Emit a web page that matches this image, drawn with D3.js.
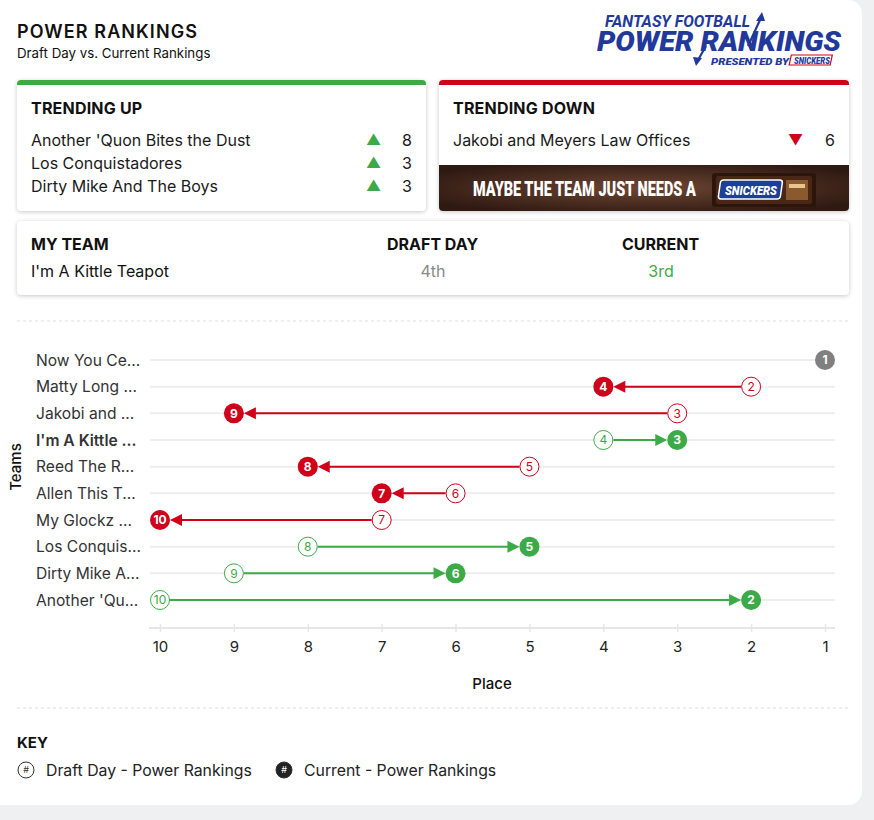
<html>
<head>
<script src="https://d3js.org/d3.v7.min.js"></script>
<style>
  * { margin: 0; padding: 0; box-sizing: border-box; }
  body { background: #eef0f2; width: 874px; height: 820px; overflow: hidden; font-family: 'Inter', sans-serif; color: #111; }
  .page { position: absolute; left: 0; top: 0; width: 862px; height: 805px; background: #fff; border-radius: 0 14px 14px 0; }
  .t { position: absolute; white-space: nowrap; line-height: 20px; }
  .card { position: absolute; background: #fff; border-radius: 4px; box-shadow: 0 1px 4px rgba(0,0,0,0.22); overflow: hidden; }
  #up { left: 17px; top: 80px; width: 409px; height: 131px; border-top: 5px solid #3daa48; }
  #down { left: 439px; top: 80px; width: 410px; height: 131px; border-top: 5px solid #d0021b; }
  #mine { left: 17px; top: 221px; width: 832px; height: 74px; }
  .head { font-weight: 700; font-size: 16px; letter-spacing: 0.2px; }
  .row { font-size: 16px; color: #1a1a1a; }
  #chart { position: absolute; left: 0; top: 0; }
</style>
</head>
<body>
<div class="page">
  <div class="t" style="left:17px; top:22px; font-size:18px; font-weight:600; letter-spacing:1.1px;">POWER RANKINGS</div>
  <div class="t" style="left:17px; top:43px; font-size:13.3px;">Draft Day vs. Current Rankings</div>

  <div class="card" id="up">
    <div class="t head" style="left:14px; top:13px;">TRENDING UP</div>
    <div id="upRows"></div>
  </div>
  <div class="card" id="down">
    <div class="t head" style="left:14px; top:13px;">TRENDING DOWN</div>
    <div id="downRows"></div>
  </div>
  <div class="card" id="mine">
    <div class="t" style="left:14px; top:13px; font-size:16px; font-weight:700;">MY TEAM</div>
    <div class="t" style="left:370px; top:13px; font-size:16px; font-weight:700;">DRAFT DAY</div>
    <div class="t" style="left:605px; top:13px; font-size:16px; font-weight:700;">CURRENT</div>
    <div class="t" id="myName" style="left:14px; top:40px; font-size:16px;"></div>
    <div class="t" id="myDraft" style="left:370px; width:92px; text-align:center; top:40px; font-size:16px; color:#888;"></div>
    <div class="t" id="myCurrent" style="left:605px; width:78px; text-align:center; top:40px; font-size:16px; color:#3daa48;"></div>
  </div>
</div>
<svg id="chart" width="874" height="820"></svg>

<script>
// ---- data ----
var teams = ["Now You CeeDee Me", "Matty Long Legs", "Jakobi and Meyers Law Offices", "I'm A Kittle Teapot",
             "Reed The Room", "Allen This Together", "My Glockz Bigger", "Los Conquistadores",
             "Dirty Mike And The Boys", "Another 'Quon Bites the Dust"];
var draftRank   = [1, 2, 3, 4, 5, 6, 7, 8, 9, 10];
var currentRank = [1, 4, 9, 3, 8, 7, 10, 5, 6, 2];
var placeTicks  = [10, 9, 8, 7, 6, 5, 4, 3, 2, 1];
var myTeam = "I'm A Kittle Teapot";
var myDraftLabel = "4th", myCurrentLabel = "3rd";

var upTeams  = ["Another 'Quon Bites the Dust", "Los Conquistadores", "Dirty Mike And The Boys"];
var upMoves  = [8, 3, 3];
var downTeams = ["Jakobi and Meyers Law Offices"];
var downMoves = [6];

var green = '#3daa48', red = '#d0021b', grey = '#808080';

// ---- trending cards ----
d3.select('#upRows').selectAll('div').data(upTeams).enter().append('div')
  .each(function (d, i) {
    var top = 45 + i * 23;
    var s = d3.select(this);
    s.append('div').attr('class', 't row').style('left', '14px').style('top', top + 'px').text(d);
    s.append('div').attr('class', 't row').style('left', '349px').style('top', top + 'px')
      .style('color', green).style('font-size', '15px').text('\u25B2');
    s.append('div').attr('class', 't row').style('left', '375px').style('width', '20px')
      .style('text-align', 'right').style('top', top + 'px').text(upMoves[i]);
  });

d3.select('#downRows').selectAll('div').data(downTeams).enter().append('div')
  .each(function (d, i) {
    var top = 45 + i * 23;
    var s = d3.select(this);
    s.append('div').attr('class', 't row').style('left', '14px').style('top', top + 'px').text(d);
    s.append('div').attr('class', 't row').style('left', '349px').style('top', top + 'px')
      .style('color', red).style('font-size', '15px').text('\u25BC');
    s.append('div').attr('class', 't row').style('left', '374px').style('width', '22px')
      .style('text-align', 'right').style('top', top + 'px').text(downMoves[i]);
  });

d3.select('#myName').text(myTeam);
d3.select('#myDraft').text(myDraftLabel);
d3.select('#myCurrent').text(myCurrentLabel);

var svg = d3.select('#chart');

// squeeze a text horizontally so it spans w pixels from (x, y)
function fitText(sel, x, y, w) {
  var len = sel.node().getComputedTextLength();
  sel.attr('x', 0).attr('y', 0).attr('transform', 'translate(' + x + ',' + y + ') scale(' + (w / len) + ',1)');
  return sel;
}

// ---- logo ----
var blue = '#22399b';
svg.append('rect').attr('x', 791).attr('y', 55).attr('width', 41).attr('height', 10)
  .attr('fill', '#fff').attr('stroke', red).attr('stroke-width', 1.2).attr('transform', 'skewX(-12) translate(12,0)');
var logo = svg.append('text').attr('font-family', 'Roboto').attr('font-style', 'italic').attr('font-weight', 900).attr('fill', blue);
logo.append('tspan').attr('x', 605).attr('y', 27).attr('font-size', 16).attr('font-weight', 700).attr('textLength', 145)
  .attr('lengthAdjust', 'spacingAndGlyphs').text('FANTASY FOOTBALL');
logo.append('tspan').attr('x', 597).attr('y', 51).attr('font-size', 28).attr('textLength', 244)
  .attr('lengthAdjust', 'spacingAndGlyphs').text('POWER RANKINGS');
logo.append('tspan').attr('x', 711).attr('y', 64.5).attr('font-size', 9.5).attr('textLength', 78)
  .attr('lengthAdjust', 'spacingAndGlyphs').text('PRESENTED BY');
logo.append('tspan').attr('x', 794).attr('y', 64).attr('font-size', 9).attr('textLength', 36)
  .attr('lengthAdjust', 'spacingAndGlyphs').text('SNICKERS');
// arrow through the R
svg.append('path').attr('d', 'M760,20 L748,46 M706,46 L698,60').attr('stroke', blue).attr('stroke-width', 2.2).attr('fill', 'none');
svg.append('path').attr('d', 'M762,12 L756,21 L765,21 Z').attr('fill', blue);
svg.append('path').attr('d', 'M696,66 L693,57 L702,58 Z').attr('fill', blue);

// ---- snickers banner ----
var defs = svg.append('defs');
var rg = defs.append('radialGradient').attr('id', 'brown').attr('cx', '50%').attr('cy', '50%').attr('r', '60%');
rg.append('stop').attr('offset', '0%').attr('stop-color', '#6e4634');
rg.append('stop').attr('offset', '100%').attr('stop-color', '#2f1a12');
defs.append('clipPath').attr('id', 'bannerClip').append('path')
  .attr('d', 'M439,165 H849 V207 Q849,211 845,211 H443 Q439,211 439,207 Z');
var banner = svg.append('g').attr('clip-path', 'url(#bannerClip)');
banner.append('rect').attr('x', 439).attr('y', 165).attr('width', 410).attr('height', 46).attr('fill', 'url(#brown)');
fitText(banner.append('text').attr('fill', '#fff').attr('font-family', 'Roboto')
  .attr('font-weight', 900).attr('font-size', 21).text('MAYBE THE TEAM JUST NEEDS A'), 473, 196, 223);
banner.append('rect').attr('x', 712).attr('y', 173).attr('width', 104).attr('height', 34).attr('rx', 3).attr('fill', '#2b150c');
banner.append('rect').attr('x', 716).attr('y', 176).attr('width', 96).attr('height', 28).attr('rx', 2).attr('fill', '#4a2616');
banner.append('rect').attr('x', 720).attr('y', 180).attr('width', 62).attr('height', 19).attr('rx', 3)
  .attr('fill', '#1d3f96').attr('stroke', '#fff').attr('stroke-width', 1.5).attr('transform', 'skewX(-8) translate(26,0)');
fitText(banner.append('text').attr('fill', '#fff').attr('font-family', 'Roboto').attr('font-style', 'italic')
  .attr('font-weight', 900).attr('font-size', 13).text('SNICKERS'), 725, 195, 52);
banner.append('rect').attr('x', 786).attr('y', 180).attr('width', 22).attr('height', 20).attr('fill', '#8a5a2e');
banner.append('rect').attr('x', 789).attr('y', 184).attr('width', 16).attr('height', 4).attr('fill', '#e8c68e');

// ---- dividers ----
[321, 708].forEach(function (y) {
  svg.append('line').attr('x1', 17).attr('x2', 849).attr('y1', y).attr('y2', y)
    .attr('stroke', '#ddd').attr('stroke-dasharray', '3,3');
});

// ---- chart ----
var x = d3.scaleLinear().domain([10, 1]).range([160, 825]);
var y = d3.scalePoint().domain(teams).range([360, 600]);
var r = 10;

var grid = svg.append('g');
grid.selectAll('line').data(teams).enter().append('line')
  .attr('x1', 150).attr('x2', 835)
  .attr('y1', function (d) { return y(d); }).attr('y2', function (d) { return y(d); })
  .attr('stroke', '#eeeeee').attr('stroke-width', 2);

var xAxis = svg.append('g').attr('transform', 'translate(0,628)')
  .call(d3.axisBottom(x).tickValues(placeTicks).tickFormat(d3.format('d')).tickSize(0).tickPadding(13));
xAxis.select('.domain').attr('d', 'M149,0H835').attr('stroke', '#e6e6e6').attr('stroke-width', 2);
xAxis.selectAll('.tick').append('line').attr('y1', -4).attr('y2', 4).attr('stroke', '#e6e6e6').attr('stroke-width', 1.5);
xAxis.selectAll('.tick text').attr('font-family', 'Inter').attr('font-size', 15).attr('fill', '#222');

svg.append('text').attr('x', 492).attr('y', 689).attr('text-anchor', 'middle')
  .attr('font-family', 'Inter').attr('font-size', 15).attr('font-weight', 500).attr('fill', '#111').text('Place');
svg.append('text').attr('transform', 'translate(21,467) rotate(-90)').attr('text-anchor', 'middle')
  .attr('font-family', 'Inter').attr('font-size', 15).attr('font-weight', 500).attr('fill', '#111').text('Teams');

// team labels, cut with an ellipsis when too wide
var labelMax = 106;
svg.append('g').selectAll('text').data(teams).enter().append('text')
  .attr('x', 36).attr('y', function (d) { return y(d); }).attr('dy', '0.36em')
  .attr('font-family', 'Inter').attr('font-size', 15.6)
  .attr('font-weight', function (d) { return d === myTeam ? 600 : 400; })
  .attr('fill', '#333')
  .each(function (d) {
    var t = d3.select(this).text(d);
    if (this.getComputedTextLength() <= labelMax) return;
    var s = d;
    while (s.length > 1) {
      s = s.slice(0, -1);
      t.text(s + '...');
      if (this.getComputedTextLength() <= labelMax) break;
    }
  });

function colorOf(i) {
  if (currentRank[i] < draftRank[i]) return green;
  if (currentRank[i] > draftRank[i]) return red;
  return grey;
}

var rows = teams.map(function (t, i) { return { team: t, draft: draftRank[i], current: currentRank[i], color: colorOf(i) }; });
var moved = rows.filter(function (d) { return d.draft !== d.current; });

// connecting lines with arrowheads
var arrows = svg.append('g');
moved.forEach(function (d) {
  var cy = y(d.team);
  var x0 = x(d.draft), x1 = x(d.current);
  var dir = x1 > x0 ? 1 : -1;
  var tip = x1 - dir * r;
  var base = tip - dir * 12;
  arrows.append('line').attr('x1', x0 + dir * r).attr('x2', base + dir * 1)
    .attr('y1', cy).attr('y2', cy).attr('stroke', d.color).attr('stroke-width', 2);
  arrows.append('path').attr('d', 'M' + tip + ',' + cy + 'L' + base + ',' + (cy - 6) + 'L' + base + ',' + (cy + 6) + 'Z')
    .attr('fill', d.color);
});

// draft day circles (open)
var draftG = svg.append('g').selectAll('g').data(moved).enter().append('g')
  .attr('transform', function (d) { return 'translate(' + x(d.draft) + ',' + y(d.team) + ')'; });
draftG.append('circle').attr('r', r - 0.5).attr('fill', '#fff').attr('stroke', function (d) { return d.color; }).attr('stroke-width', 1);
draftG.append('text').attr('text-anchor', 'middle').attr('dy', '0.36em').attr('font-family', 'Inter').attr('font-size', 12)
  .attr('fill', function (d) { return d.color; }).text(function (d) { return d.draft; });

// current circles (filled)
var curG = svg.append('g').selectAll('g').data(rows).enter().append('g')
  .attr('transform', function (d) { return 'translate(' + x(d.current) + ',' + y(d.team) + ')'; });
curG.append('circle').attr('r', r).attr('fill', function (d) { return d.color; });
curG.append('text').attr('text-anchor', 'middle').attr('dy', '0.36em').attr('font-family', 'Inter').attr('font-size', 12)
  .attr('font-weight', 700).attr('fill', '#fff').text(function (d) { return d.current; });

// ---- key ----
svg.append('text').attr('x', 17).attr('y', 748).attr('font-family', 'Inter').attr('font-size', 15).attr('font-weight', 700)
  .attr('fill', '#111').text('KEY');
var keyItems = [
  { label: 'Draft Day - Power Rankings', cx: 26, filled: false },
  { label: 'Current - Power Rankings', cx: 284, filled: true }
];
var key = svg.append('g').selectAll('g').data(keyItems).enter().append('g')
  .attr('transform', function (d) { return 'translate(' + d.cx + ',770)'; });
key.append('circle').attr('r', 8).attr('fill', function (d) { return d.filled ? '#222' : '#fff'; })
  .attr('stroke', '#333').attr('stroke-width', 1);
key.append('text').attr('text-anchor', 'middle').attr('dy', '0.35em').attr('font-size', 9).attr('font-family', 'Inter')
  .attr('fill', function (d) { return d.filled ? '#fff' : '#333'; }).text('#');
key.append('text').attr('x', 20).attr('dy', '0.36em').attr('font-family', 'Inter').attr('font-size', 15.8)
  .attr('fill', '#222').text(function (d) { return d.label; });
</script>
</body>
</html>
